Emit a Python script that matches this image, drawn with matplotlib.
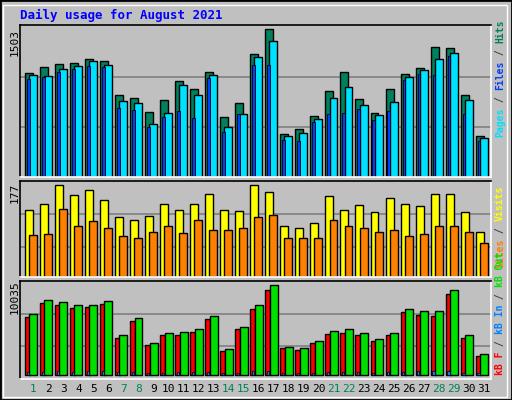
import matplotlib
matplotlib.use("Agg")
import matplotlib.pyplot as plt
from matplotlib.patches import Rectangle
import numpy as np

days = list(range(1, 32))
weekend = [1, 7, 8, 14, 15, 21, 22, 28, 29]
hits = [1061, 1122, 1153, 1163, 1204, 1183, 833, 802, 659, 782, 976, 894, 1071, 608, 751, 1248, 1503, 442, 493, 625, 870, 1064, 789, 656, 894, 1047, 1108, 1323, 1313, 833, 422]
files = [1040, 1030, 1101, 1132, 1183, 1142, 772, 751, 544, 656, 935, 833, 1040, 513, 646, 1218, 1381, 422, 452, 595, 799, 911, 728, 635, 768, 1016, 1087, 1200, 1258, 782, 401]
pages = [999, 1020, 1071, 1101, 1132, 1122, 700, 677, 506, 615, 676, 605, 1009, 462, 636, 1136, 1136, 381, 371, 564, 636, 656, 687, 585, 676, 982, 1044, 1034, 1228, 646, 371]
visits = [129, 140, 177, 157, 167, 148, 115, 109, 117, 140, 129, 140, 160, 129, 127, 177, 163, 97, 93, 104, 156, 129, 139, 124, 151, 140, 137, 160, 160, 124, 87]
sites = [81, 83, 131, 98, 108, 93, 79, 74, 87, 97, 85, 110, 91, 91, 93, 116, 118, 74, 74, 74, 110, 97, 93, 87, 91, 79, 83, 98, 97, 87, 66]
kbout = [6727, 8381, 8160, 7829, 7829, 8271, 4411, 6286, 3529, 4631, 4742, 5073, 6507, 2867, 5294, 7720, 10035, 3088, 2977, 3749, 4852, 5073, 4631, 3970, 4631, 7279, 7058, 7058, 9483, 4411, 2316]
kbf = [6397, 8050, 7829, 7389, 7499, 7940, 4080, 5955, 3308, 4411, 4411, 4742, 6176, 2647, 5073, 7279, 9483, 2977, 2757, 3529, 4521, 4631, 4411, 3749, 4411, 6948, 6617, 6507, 9042, 4080, 2095]
kbin = [350, 350, 420, 350, 420, 420, 350, 350, 220, 220, 350, 350, 350, 220, 220, 420, 420, 220, 220, 220, 350, 350, 350, 220, 350, 350, 420, 420, 420, 220, 220]

BG = "#C0C0C0"
W, H = 512, 400
fig = plt.figure(figsize=(W/100, H/100), dpi=100, facecolor=BG)
mono = "DejaVu Sans Mono"

def mkax(top, bottom):
    ax = fig.add_axes([20/W, 1-bottom/H, 471/W, (bottom-top)/H])
    ax.set_facecolor(BG)
    ax.set_xlim(-0.333, 31.02)
    ax.set_xticks([]); ax.set_yticks([])
    for s in ax.spines.values():
        s.set_linewidth(1.2); s.set_color("black")
    ax.spines["right"].set_color("white"); ax.spines["bottom"].set_color("white")
    return ax

x = np.arange(31)
ek = dict(edgecolor="black", linewidth=1, align="edge")

ax1 = mkax(25, 177)
ax1.set_ylim(0, 1503*1.029)
for g in (0.338, 0.68):
    ax1.axhline(1503*g, color="#808080", lw=1.2, zorder=0)
ax1.bar(x, hits, 0.53, color="#00805C", **ek)
ax1.bar(x+0.27, files, 0.53, color="#00E0FF", **ek)
ax1.bar(x+0.13, pages, 0.17, color="#0040FF", edgecolor="black", linewidth=0.6, align="edge")

ax2 = mkax(181, 277)
ax2.set_ylim(0, 177*1.04)
for g in (0.33, 0.686):
    ax2.axhline(177*g, color="#808080", lw=1.2, zorder=0)
ax2.bar(x, visits, 0.53, color="#FFFF00", **ek)
ax2.bar(x+0.27, sites, 0.53, color="#FF8000", **ek)

ax3 = mkax(281, 379)
ax3.set_ylim(-12/273*10035, 284/273*10035)
for g in (0.32, 0.68):
    ax3.axhline(10035*g, color="#808080", lw=1.2, zorder=0)
ax3.bar(x, kbf, 0.33, color="#FF0000", **ek)
ax3.bar(x+0.29, kbout, 0.53, color="#00E000", **ek)
ax3.bar(x+0.11, kbin, 0.15, color="#0080FF", edgecolor="black", linewidth=0.5, align="edge")

fig.text(20/W, 1-15/H, "Daily usage for August 2021", color="#0000FF", family=mono,
         fontweight="bold", fontsize=9, va="center", ha="left")

for val, yc in (("1503", 42), ("177", 193), ("10035", 297)):
    fig.text(15/W, 1-yc/H, val, rotation=90, family=mono, fontsize=8, ha="center", va="center")

for d in days:
    col = "#00805C" if d in weekend else "black"
    px = 25 + 15.02*(d-1) + 8.5
    fig.text(px/W, 1-389/H, str(d), color=col, family=mono, fontsize=8, ha="center", va="center")

FS = 7
CW = 0.602*FS*100/72
def side(parts, ybottom):
    y = ybottom
    for txt, col in parts:
        fig.text(500/W, 1-y/H, txt, color=col, rotation=90, family=mono,
                 fontweight="bold", fontsize=FS, ha="center", va="bottom")
        y -= len(txt)*CW
side([("Pages", "#00E0FF"), (" / ", "#404040"), ("Files", "#0040FF"), (" / ", "#404040"), ("Hits", "#00805C")], 137)
side([("Sites", "#FF8000"), (" / ", "#404040"), ("Visits", "#FFFF00")], 268)
side([("kB F", "#FF0000"), (" / ", "#404040"), ("kB In", "#0080FF"), (" / ", "#404040"), ("kB Out", "#00E000")], 375)

fig.add_artist(Rectangle((0, 0), 1, 1, transform=fig.transFigure, fill=False, edgecolor="black", lw=2))
fig.add_artist(Rectangle((3/W, 3/H), 1-8/W, 1-8/H, transform=fig.transFigure, fill=False, edgecolor="white", lw=1))
fig.savefig("out.png", dpi=100, facecolor=BG)
